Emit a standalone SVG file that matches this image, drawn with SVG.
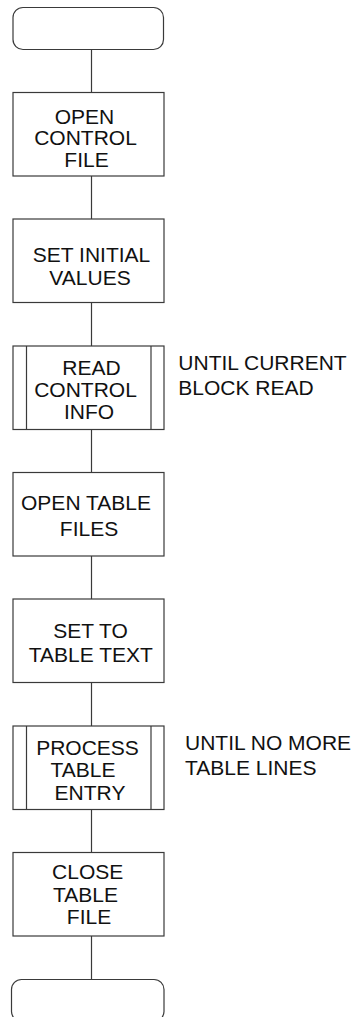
<svg xmlns="http://www.w3.org/2000/svg" width="353" height="1017" viewBox="0 0 353 1017">
  <style>
    .shape { fill: #ffffff; stroke: #3a3a3a; stroke-width: 1.2; }
    .bar { fill: none; stroke: #3a3a3a; stroke-width: 1.2; }
    .link { fill: none; stroke: #3a3a3a; stroke-width: 1.2; }
    text { font-family: "Liberation Sans", Arial, sans-serif; font-size: 21px; fill: #111111; }
    .c { text-anchor: middle; }
  </style>
  <rect width="353" height="1017" fill="#ffffff"/>

  <!-- flow connectors -->
  <g id="connectors">
    <line class="link" x1="91.5" y1="49.5" x2="91.5" y2="92.5"/>
    <line class="link" x1="91.5" y1="176" x2="91.5" y2="219"/>
    <line class="link" x1="91.5" y1="302.5" x2="91.5" y2="346"/>
    <line class="link" x1="91.5" y1="429.5" x2="91.5" y2="472.5"/>
    <line class="link" x1="91.5" y1="556" x2="91.5" y2="599"/>
    <line class="link" x1="91.5" y1="682.5" x2="91.5" y2="726"/>
    <line class="link" x1="91.5" y1="809.5" x2="91.5" y2="852.5"/>
    <line class="link" x1="91.5" y1="936" x2="91.5" y2="979.5"/>
  </g>

  <!-- start terminal -->
  <g id="start">
    <rect class="shape" x="13" y="7.5" width="150.5" height="42" rx="10" ry="10"/>
  </g>

  <g id="open-control-file">
    <rect class="shape" x="13" y="92.5" width="151" height="83.5"/>
    <text class="c" x="84.5" y="123.5">OPEN</text>
    <text class="c" x="85.5" y="145.2">CONTROL</text>
    <text class="c" x="86.5" y="166.8">FILE</text>
  </g>

  <g id="set-initial-values">
    <rect class="shape" x="13" y="219" width="151" height="83.5"/>
    <text class="c" x="91.5" y="261.7">SET INITIAL</text>
    <text class="c" x="90" y="285">VALUES</text>
  </g>

  <!-- predefined process: repeated read -->
  <g id="read-control-info">
    <rect class="shape" x="13" y="346" width="151" height="83.5"/>
    <line class="bar" x1="26.5" y1="346" x2="26.5" y2="429.5"/>
    <line class="bar" x1="151" y1="346" x2="151" y2="429.5"/>
    <text class="c" x="91.5" y="375.3">READ</text>
    <text class="c" x="85.5" y="397">CONTROL</text>
    <text class="c" x="89" y="418.7">INFO</text>
  </g>
  <g id="until-current-block-read">
    <text x="178.3" y="370.3">UNTIL CURRENT</text>
    <text x="178.3" y="395.3">BLOCK READ</text>
  </g>

  <g id="open-table-files">
    <rect class="shape" x="13" y="472.5" width="151" height="83.5"/>
    <text class="c" x="86" y="510">OPEN TABLE</text>
    <text class="c" x="89" y="535.5">FILES</text>
  </g>

  <g id="set-to-table-text">
    <rect class="shape" x="13" y="599" width="151" height="83.5"/>
    <text class="c" x="90.5" y="638.3">SET TO</text>
    <text class="c" x="90.8" y="661.7">TABLE TEXT</text>
  </g>

  <!-- predefined process: repeated per table line -->
  <g id="process-table-entry">
    <rect class="shape" x="13" y="726" width="151" height="83.5"/>
    <line class="bar" x1="26.5" y1="726" x2="26.5" y2="809.5"/>
    <line class="bar" x1="151" y1="726" x2="151" y2="809.5"/>
    <text class="c" x="87.5" y="755">PROCESS</text>
    <text class="c" x="83" y="776.7">TABLE</text>
    <text class="c" x="90" y="800">ENTRY</text>
  </g>
  <g id="until-no-more-table-lines">
    <text x="185" y="750.3">UNTIL NO MORE</text>
    <text x="185" y="775.3">TABLE LINES</text>
  </g>

  <g id="close-table-file">
    <rect class="shape" x="13" y="852.5" width="151" height="83.5"/>
    <text class="c" x="87.7" y="879.3">CLOSE</text>
    <text class="c" x="85.5" y="901.7">TABLE</text>
    <text class="c" x="89" y="924">FILE</text>
  </g>

  <!-- end terminal -->
  <g id="end">
    <rect class="shape" x="11.5" y="979.5" width="152.5" height="42" rx="10" ry="10"/>
  </g>
</svg>
